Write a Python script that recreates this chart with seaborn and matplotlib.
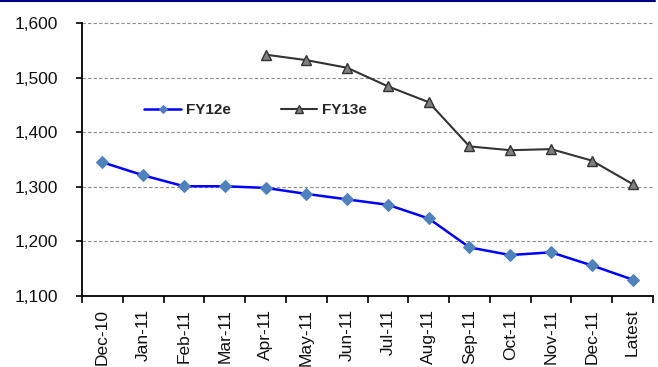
import numpy as np
import pandas as pd
import matplotlib.pyplot as plt
import seaborn as sns
from matplotlib.lines import Line2D
from matplotlib.ticker import FixedLocator

# data
months = ["Dec-10", "Jan-11", "Feb-11", "Mar-11", "Apr-11", "May-11", "Jun-11",
          "Jul-11", "Aug-11", "Sep-11", "Oct-11", "Nov-11", "Dec-11", "Latest"]
fy12e = [1345, 1321, 1301, 1301, 1298, 1287, 1277, 1267, 1242, 1189, 1175, 1180, 1156, 1130]
fy13e_months = months[4:]
fy13e = [1542, 1532, 1518, 1484, 1455, 1374, 1367, 1369, 1348, 1305]
y_ticks = [1100, 1200, 1300, 1400, 1500, 1600]

sns.set_style("white")
plt.rcParams["font.family"] = ["Liberation Sans", "DejaVu Sans"]

pos = {m: i for i, m in enumerate(months)}
df12 = pd.DataFrame({"x": [pos[m] for m in months], "y": fy12e})
df13 = pd.DataFrame({"x": [pos[m] for m in fy13e_months], "y": fy13e})

fig = plt.figure(figsize=(6.58, 3.67), dpi=100)
ax = fig.add_axes([82 / 658, 1 - 296 / 367, 571 / 658, 273 / 367])

sns.lineplot(data=df12, x="x", y="y", ax=ax, color="#0000FF", lw=1.8,
             marker="D", ms=6.3, markerfacecolor="#4F81BD",
             markeredgecolor="#4F81BD", label="FY12e")
sns.lineplot(data=df13, x="x", y="y", ax=ax, color="#333333", lw=1.5,
             marker="^", ms=7.5, markerfacecolor="#808080",
             markeredgecolor="#333333", markeredgewidth=1, label="FY13e")

ax.set_xlim(-0.5, len(months) - 0.5)
ax.set_ylim(1100, 1600)
ax.set_xlabel("")
ax.set_ylabel("")

ax.set_xticks(np.arange(len(months)))
ax.set_xticklabels(months, rotation=90, fontsize=12.5)
ax.xaxis.set_minor_locator(FixedLocator(np.arange(len(months) + 1) - 0.5))
ax.tick_params(axis="x", which="major", length=0, pad=9.5, colors="#111111")
ax.tick_params(axis="x", which="minor", length=5, width=1.2, direction="out",
               color="black", bottom=True)

ax.set_yticks(y_ticks)
ax.set_yticklabels([f"{v:,}" for v in y_ticks], fontsize=12.5)
ax.tick_params(axis="y", length=4, width=1.2, pad=13, color="black",
               left=True, labelcolor="#111111")

for v in y_ticks[1:]:
    ax.axhline(v, color="#8C8C8C", lw=0.8, ls=(0, (3, 2)), zorder=0, clip_on=False)

for s in ["top", "right"]:
    ax.spines[s].set_visible(False)
for s in ["left", "bottom"]:
    ax.spines[s].set_color("black")
    ax.spines[s].set_linewidth(1.3)

leg = ax.legend(loc="center left", bbox_to_anchor=(0.085, 0.68), ncol=2,
                frameon=False, handlelength=2.4, handletextpad=0.3,
                columnspacing=3.3, markerscale=0.7,
                prop={"weight": "bold", "size": 11})

fig.add_artist(Line2D([0, 655 / 658], [1 - 1 / 367, 1 - 1 / 367],
                      transform=fig.transFigure, color="#00007F", lw=1.5))

fig.savefig("out.png", dpi=100)
